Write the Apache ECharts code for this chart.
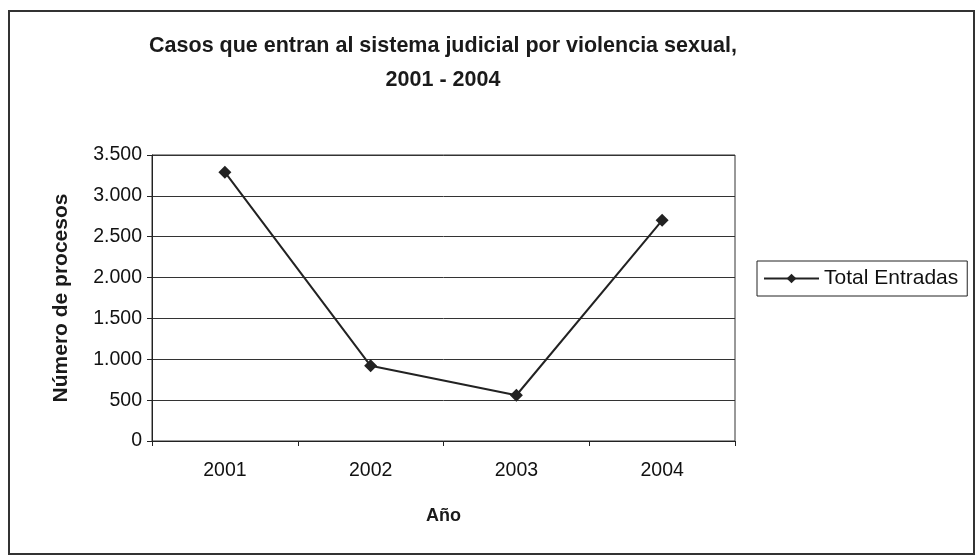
<!DOCTYPE html>
<html>
<head>
<meta charset="utf-8">
<script src="https://cdn.jsdelivr.net/npm/echarts@6/dist/echarts.min.js"></script>
<style>
  html, body { margin: 0; padding: 0; background: #fff; }
  #chart { width: 978px; height: 560px; }
</style>
</head>
<body>
<div id="chart"></div>
<script>
(function () {
  'use strict';

  // datos
  var years = ['2001', '2002', '2003', '2004'];
  var totalEntradas = [3290, 920, 560, 2700];
  var yTicks = { min: 0, max: 3500, interval: 500 };

  var font = '"Liberation Sans", Arial, Helvetica, sans-serif';

  function miles(v) {
    return String(v).replace(/\B(?=(\d{3})+(?!\d))/g, '.');
  }

  var myChart = echarts.init(document.getElementById('chart'));

  myChart.setOption({
    backgroundColor: '#fff',
    animation: false,
    textStyle: { fontFamily: font, color: '#111' },
    title: {
      text: 'Casos que entran al sistema judicial por violencia sexual,\n2001 - 2004',
      left: 438,
      top: 24,
      textAlign: 'center',
      textStyle: {
        fontFamily: font,
        fontSize: 21.5,
        fontWeight: 'bold',
        color: '#1a1a1a',
        lineHeight: 34
      }
    },
    graphic: [{
      type: 'rect',
      shape: { x: 9, y: 11, width: 965, height: 543 },
      style: { fill: 'none', stroke: '#333', lineWidth: 2 },
      silent: true
    }],
    legend: {
      left: 757,
      top: 261,
      orient: 'vertical',
      data: ['Total Entradas'],
      itemWidth: 55,
      itemHeight: 12,
      itemGap: 4,
      padding: [7, 9, 7, 6],
      borderColor: '#222',
      borderWidth: 1,
      textStyle: { fontFamily: font, fontSize: 21, color: '#111' }
    },
    grid: {
      left: 152,
      right: 243,
      top: 155,
      bottom: 119,
      show: true,
      borderColor: '#333',
      borderWidth: 1
    },
    xAxis: {
      type: 'category',
      data: years,
      boundaryGap: true,
      name: 'Año',
      nameLocation: 'middle',
      nameGap: 66,
      nameTextStyle: { fontFamily: font, fontSize: 18, fontWeight: 'bold', color: '#1a1a1a' },
      axisLine: { lineStyle: { color: '#222', width: 1 } },
      axisTick: { show: true, inside: false, length: 5, lineStyle: { color: '#222' } },
      axisLabel: { fontFamily: font, fontSize: 19.5, color: '#111', margin: 20 },
      splitLine: { show: false }
    },
    yAxis: {
      type: 'value',
      min: yTicks.min,
      max: yTicks.max,
      interval: yTicks.interval,
      name: 'Número de procesos',
      nameLocation: 'middle',
      nameGap: 80,
      nameRotate: 90,
      nameTextStyle: { fontFamily: font, fontSize: 21, fontWeight: 'bold', color: '#1a1a1a' },
      axisLine: { show: true, lineStyle: { color: '#222', width: 1 } },
      axisTick: { show: true, length: 5, lineStyle: { color: '#222' } },
      axisLabel: { fontFamily: font, fontSize: 19.5, color: '#111', margin: 10, formatter: miles },
      splitLine: { show: true, lineStyle: { color: '#333', width: 1 } }
    },
    series: [{
      name: 'Total Entradas',
      type: 'line',
      data: totalEntradas,
      symbol: 'diamond',
      symbolSize: 13,
      lineStyle: { color: '#222', width: 2 },
      itemStyle: { color: '#222' }
    }]
  });
})();
</script>
</body>
</html>
